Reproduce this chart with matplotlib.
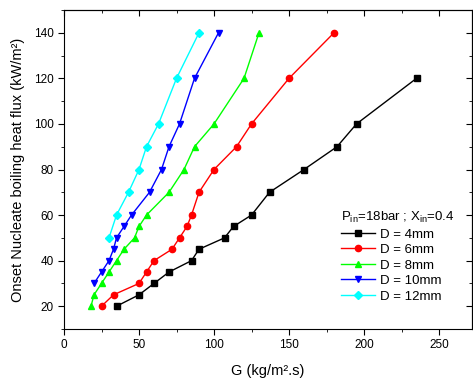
import matplotlib
matplotlib.use("Agg")
import matplotlib.pyplot as plt
from matplotlib.ticker import MultipleLocator

plt.rcParams['font.family'] = ['Liberation Sans', 'DejaVu Sans']

# D = 4mm
g_4 = [35, 50, 60, 70, 85, 90, 107, 113, 125, 137, 160, 182, 195, 235]
q_4 = [20, 25, 30, 35, 40, 45, 50, 55, 60, 70, 80, 90, 100, 120]
# D = 6mm
g_6 = [25, 33, 50, 55, 60, 72, 77, 82, 85, 90, 100, 115, 125, 150, 180]
q_6 = [20, 25, 30, 35, 40, 45, 50, 55, 60, 70, 80, 90, 100, 120, 140]
# D = 8mm
g_8 = [18, 20, 25, 30, 35, 40, 47, 50, 55, 70, 80, 87, 100, 120, 130]
q_8 = [20, 25, 30, 35, 40, 45, 50, 55, 60, 70, 80, 90, 100, 120, 140]
# D = 10mm
g_10 = [20, 25, 30, 33, 35, 40, 45, 57, 65, 70, 77, 87, 103]
q_10 = [30, 35, 40, 45, 50, 55, 60, 70, 80, 90, 100, 120, 140]
# D = 12mm
g_12 = [30, 35, 43, 50, 55, 63, 75, 90]
q_12 = [50, 60, 70, 80, 90, 100, 120, 140]

series = [
    (g_4, q_4, "k", "s", "D = 4mm"),
    (g_6, q_6, "#ff0000", "o", "D = 6mm"),
    (g_8, q_8, "#00ff00", "^", "D = 8mm"),
    (g_10, q_10, "#0000ff", "v", "D = 10mm"),
    (g_12, q_12, "#00ffff", "D", "D = 12mm"),
]

fig = plt.figure(figsize=(4.73, 3.82), dpi=100)
ax = fig.add_axes([64 / 473, 53 / 382, 408 / 473, 319 / 382])

for g, q, c, m, lab in series:
    ms = 4 if m == "D" else 4.5
    ax.plot(g, q, color=c, marker=m, markersize=ms, linewidth=1, label=lab)

ax.set_xlim(0, 272)
ax.set_ylim(10, 150)
ax.xaxis.set_major_locator(MultipleLocator(50))
ax.xaxis.set_minor_locator(MultipleLocator(25))
ax.yaxis.set_major_locator(MultipleLocator(20))
ax.yaxis.set_minor_locator(MultipleLocator(10))
ax.tick_params(which="both", direction="out", labelsize=8.5)
ax.tick_params(which="major", length=4)
ax.tick_params(which="minor", length=2.5)
ax.tick_params(which="both", top=False, right=False)
sec_x = ax.secondary_xaxis("top")
sec_x.xaxis.set_major_locator(MultipleLocator(50))
sec_x.xaxis.set_minor_locator(MultipleLocator(25))
sec_x.tick_params(which="both", direction="in", labeltop=False)
sec_x.tick_params(which="major", length=4)
sec_x.tick_params(which="minor", length=2.5)
sec_y = ax.secondary_yaxis("right")
sec_y.yaxis.set_major_locator(MultipleLocator(20))
sec_y.yaxis.set_minor_locator(MultipleLocator(10))
sec_y.tick_params(which="both", direction="in", labelright=False)
sec_y.tick_params(which="major", length=4)
sec_y.tick_params(which="minor", length=2.5)

ax.set_xlabel("G (kg/m\u00b2.s)", fontsize=10.5, labelpad=9)
ax.set_ylabel("Onset Nucleate boiling heat flux (kW/m\u00b2)", fontsize=10.5, labelpad=6)

leg = ax.legend(loc="upper left", bbox_to_anchor=(0.665, 0.39), frameon=False,
                fontsize=9.5, title="P$_{\\mathregular{in}}$=18bar ; X$_{\\mathregular{in}}$=0.4",
                title_fontsize=9.5, handlelength=2.6, handletextpad=0.4,
                labelspacing=0.25, borderaxespad=0)
leg._legend_box.align = "left"

fig.savefig("out.png", dpi=100)
